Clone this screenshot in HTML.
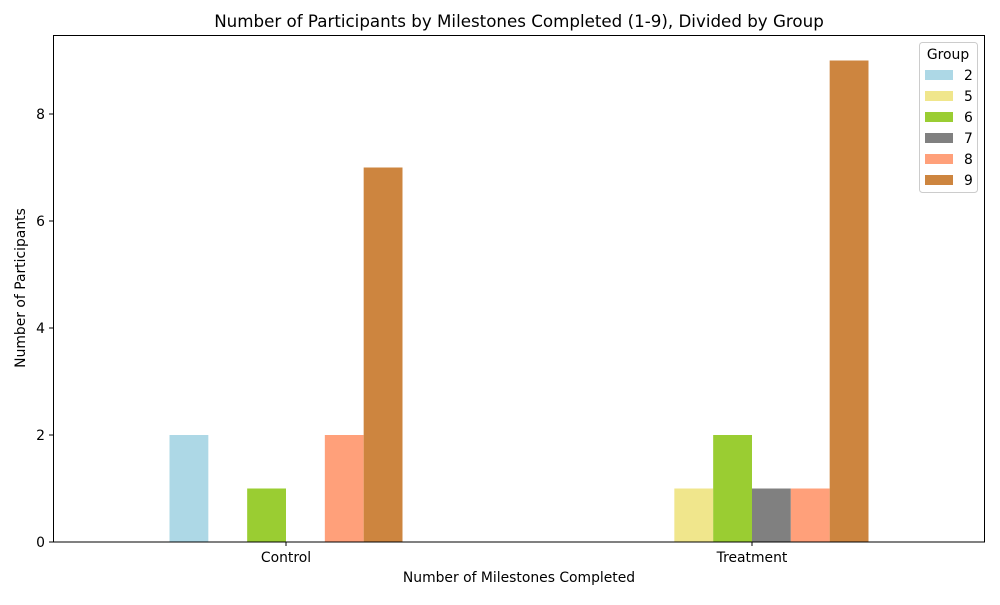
<!DOCTYPE html>
<html><head><meta charset="utf-8"><style>
body{margin:0;background:#fff;font-family:"Liberation Sans","DejaVu Sans",sans-serif}
text{font-family:"DejaVu Sans","Liberation Sans",sans-serif}
</style></head><body>
<svg id="chart" width="1000" height="600" xmlns="http://www.w3.org/2000/svg">
<rect width="1000" height="600" fill="#fff"/>
<text x="519" y="27" font-size="16.7" text-anchor="middle">Number of Participants by Milestones Completed (1-9), Divided by Group</text>
<g id="bars"></g>
<rect x="53.5" y="35.5" width="931" height="506.5" fill="none" stroke="#000" stroke-width="1"/>
<g id="axes"></g>
<text x="519" y="582" font-size="13.9" text-anchor="middle">Number of Milestones Completed</text>
<text transform="translate(25,288) rotate(-90)" font-size="13.9" text-anchor="middle">Number of Participants</text>
<g id="legend">
<rect x="919.5" y="42.5" width="58" height="150" rx="3" fill="#fff" stroke="#ccc"/>
<text x="948" y="59" font-size="13.9" text-anchor="middle">Group</text>
</g>
</svg>
<script>
const categories = ["Control", "Treatment"];
const groups = ["2", "5", "6", "7", "8", "9"];
const colors = ["#add8e6", "#f0e68c", "#9acd32", "#808080", "#ffa07a", "#cd853f"];
const series2 = [2, 0];
const series5 = [0, 1];
const series6 = [1, 2];
const series7 = [0, 1];
const series8 = [2, 1];
const series9 = [7, 9];
const yTicks = [0, 2, 4, 6, 8];
const allSeries = [series2, series5, series6, series7, series8, series9];
const NS = "http://www.w3.org/2000/svg";
const x0 = 53, x1 = 985, yB = 542, yT = 35;
const xCat = i => 286 + i * 466;
const unitX = 466;
const yScale = v => yB - v * 53.5;
const barsG = document.getElementById('bars');
const axesG = document.getElementById('axes');
const bw = unitX * 0.5 / groups.length;
allSeries.forEach((s, g) => {
  s.forEach((v, i) => {
    if (v <= 0) return;
    const r = document.createElementNS(NS, 'rect');
    const left = xCat(i) - unitX * 0.25 + g * bw;
    r.setAttribute('x', left);
    r.setAttribute('y', yScale(v));
    r.setAttribute('width', bw);
    r.setAttribute('height', yB - yScale(v));
    r.setAttribute('fill', colors[g]);
    
    
    barsG.appendChild(r);
  });
});
yTicks.forEach(t => {
  const y = yScale(t);
  const l = document.createElementNS(NS, 'line');
  l.setAttribute('x1', x0 - 4); l.setAttribute('x2', x0); l.setAttribute('y1', y); l.setAttribute('y2', y);
  l.setAttribute('stroke', '#000');
  
  
  axesG.appendChild(l);
  const tx = document.createElementNS(NS, 'text');
  tx.setAttribute('x', x0 - 8); tx.setAttribute('y', y + 5);
  tx.setAttribute('font-size', '13.9'); tx.setAttribute('text-anchor', 'end');
  tx.textContent = t;
  
  
  axesG.appendChild(tx);
});
categories.forEach((c, i) => {
  const x = xCat(i);
  const l = document.createElementNS(NS, 'line');
  l.setAttribute('x1', x); l.setAttribute('x2', x); l.setAttribute('y1', yB); l.setAttribute('y2', yB + 4);
  l.setAttribute('stroke', '#000');
  
  
  axesG.appendChild(l);
  const tx = document.createElementNS(NS, 'text');
  tx.setAttribute('x', x); tx.setAttribute('y', yB + 20);
  tx.setAttribute('font-size', '13.9'); tx.setAttribute('text-anchor', 'middle');
  tx.textContent = c;
  
  
  axesG.appendChild(tx);
});
const leg = document.getElementById('legend');
groups.forEach((g, k) => {
  const cy = 75 + k * 21;
  const r = document.createElementNS(NS, 'rect');
  r.setAttribute('x', 925); r.setAttribute('y', cy - 5); r.setAttribute('width', 28); r.setAttribute('height', 10);
  r.setAttribute('fill', colors[k]);
  
  
  leg.appendChild(r);
  const t = document.createElementNS(NS, 'text');
  t.setAttribute('x', 964); t.setAttribute('y', cy + 5); t.setAttribute('font-size', '13.9');
  t.textContent = g;
  
  
  leg.appendChild(t);
});
</script>
</body></html>
